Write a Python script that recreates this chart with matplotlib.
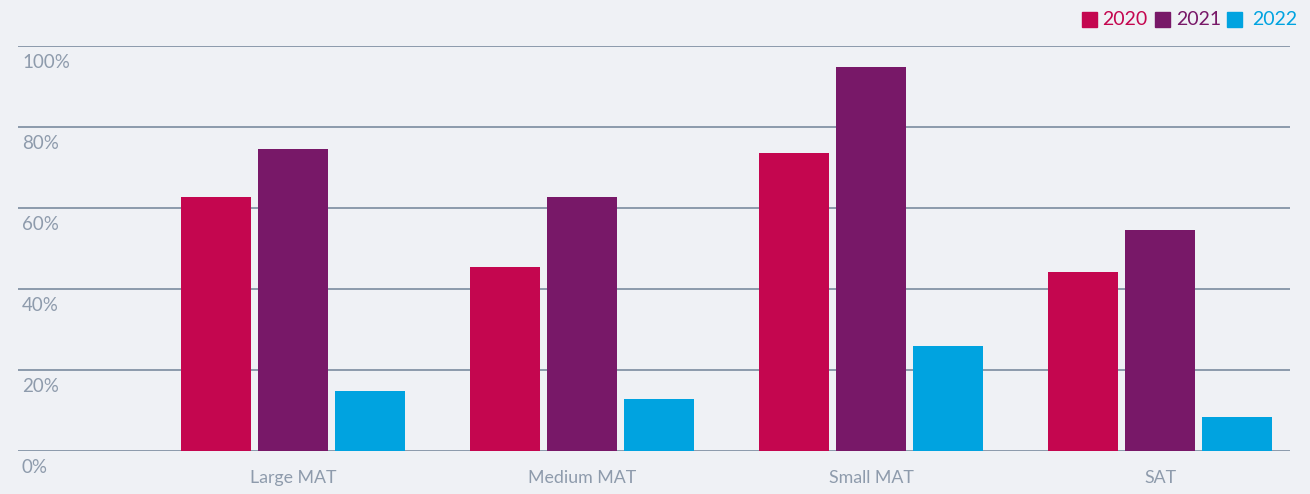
import matplotlib
matplotlib.use("Agg")
import matplotlib.pyplot as plt
from matplotlib.patches import Rectangle
import matplotlib.transforms as mtransforms

categories = ["Large MAT", "Medium MAT", "Small MAT", "SAT"]
series_names = ["2020", "2021", "2022"]
values_2020 = [62.7, 45.4, 73.6, 44.2]
values_2021 = [74.6, 62.7, 94.8, 54.6]
values_2022 = [14.6, 12.8, 25.9, 8.4]
y_ticks = [0, 20, 40, 60, 80, 100]
y_tick_labels = ["0%", "20%", "40%", "60%", "80%", "100%"]

colors = ["#c4064f", "#781868", "#00a3e0"]
bg = "#eff1f5"
grid_c = "#8c9aab"
text_c = "#8e9bac"

W, H = 1310, 494
fig = plt.figure(figsize=(W / 100, H / 100), dpi=100, facecolor=bg)
left, right = 18 / W, 1290 / W
bottom, top = (H - 450.5) / H, (H - 46) / H
ax = fig.add_axes([left, bottom, right - left, top - bottom])
ax.set_facecolor(bg)

font = "Lato"
series = [values_2020, values_2021, values_2022]
bw = 70 / 289
off = 77 / 289
xs = list(range(len(categories)))
for k, (vals, col) in enumerate(zip(series, colors)):
    ax.bar([x + (k - 1) * off for x in xs], vals, width=bw, color=col, zorder=3)

ax.set_xlim((18 - 293) / 289, (1290 - 293) / 289)
ax.set_ylim(0, 100)
for t in y_ticks:
    ax.axhline(t, color=grid_c, lw=1.4, zorder=1)
for s in ax.spines.values():
    s.set_visible(False)
ax.set_yticks([])
ax.set_xticks(xs)
ax.set_xticklabels(categories, fontfamily=font, fontsize=12.8, color=text_c, fontweight="normal")
ax.tick_params(axis="x", length=0, pad=14)

trans = mtransforms.blended_transform_factory(ax.transAxes, ax.transData)
shift = mtransforms.ScaledTranslation(0, -6 / 72, fig.dpi_scale_trans)
for t, lab in zip(y_ticks, y_tick_labels):
    ax.text(4 / (1290 - 18), t, lab, transform=trans + shift, ha="left", va="top",
            fontfamily=font, fontsize=13.5, color=text_c, fontweight="normal")

# legend
leg_sq_x = [1082, 1155, 1227]
leg_tx_x = [1102, 1176, 1252]
for name, col, sx, tx in zip(series_names, colors, leg_sq_x, leg_tx_x):
    fig.patches.append(Rectangle((sx / W, (H - 27) / H), 15 / W, 15 / H,
                                 transform=fig.transFigure, color=col))
    fig.text(tx / W, (H - 19.5) / H, name, color=col, fontfamily=font,
             fontsize=14, fontweight="normal", va="center", ha="left")

fig.savefig("out.png", dpi=100, facecolor=bg)
